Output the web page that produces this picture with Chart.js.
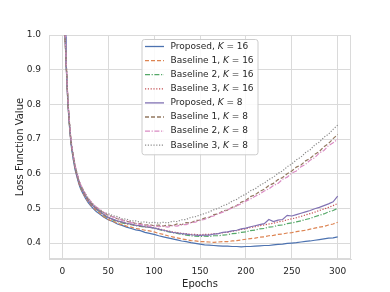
<!DOCTYPE html>
<html>
<head>
<meta charset="utf-8">
<script src="https://cdn.jsdelivr.net/npm/chart.js@4/dist/chart.umd.min.js"></script>
<style>
  html, body { margin: 0; padding: 0; background: #fff; }
</style>
</head>
<body>
<canvas id="lossChart" width="390" height="292"></canvas>
<script>
const epochs = [1, 2, 3, 4, 5, 6, 7, 8, 9, 10, 12, 14, 16, 18, 20, 22, 25, 28, 31, 34, 37, 40, 45,
    50, 55, 60, 65, 70, 75, 80, 85, 90, 95, 100, 105, 110, 115, 120, 125, 130, 135, 140, 145,
    150, 155, 160, 165, 170, 175, 180, 185, 190, 195, 200, 205, 210, 215, 220, 225, 230, 235,
    240, 245, 250, 255, 260, 265, 270, 275, 280, 285, 290, 295, 300];

const proposedK16 = [1.50, 1.12, 0.995, 0.925, 0.865, 0.805, 0.765, 0.730, 0.700, 0.675, 0.640, 0.610,
    0.590, 0.571, 0.556, 0.545, 0.530, 0.517, 0.507, 0.499, 0.491, 0.485, 0.475,
    0.467, 0.462, 0.455, 0.451, 0.446, 0.442, 0.438, 0.436, 0.431, 0.428, 0.425, 0.421, 0.418,
    0.415, 0.412, 0.409, 0.406, 0.404, 0.401, 0.399, 0.397, 0.395, 0.394, 0.393, 0.392, 0.391,
    0.391, 0.390, 0.390, 0.389, 0.390, 0.390, 0.391, 0.392, 0.393, 0.393, 0.395, 0.396, 0.397,
    0.399, 0.400, 0.401, 0.403, 0.405, 0.406, 0.408, 0.410, 0.412, 0.414, 0.415, 0.418];
const baseline1K16 = [1.49, 1.11, 0.990, 0.925, 0.870, 0.810, 0.768, 0.733, 0.703, 0.678, 0.643, 0.613,
    0.593, 0.573, 0.558, 0.548, 0.533, 0.520, 0.510, 0.502, 0.494, 0.488, 0.477,
    0.468, 0.463, 0.457, 0.453, 0.449, 0.446, 0.442, 0.440, 0.437, 0.435, 0.432, 0.428, 0.425,
    0.421, 0.418, 0.415, 0.412, 0.410, 0.407, 0.406, 0.404, 0.404, 0.403, 0.402, 0.403, 0.404,
    0.404, 0.406, 0.407, 0.409, 0.411, 0.413, 0.414, 0.417, 0.418, 0.421, 0.422, 0.425, 0.426,
    0.429, 0.430, 0.433, 0.435, 0.437, 0.440, 0.443, 0.446, 0.448, 0.452, 0.455, 0.460];
const baseline2K16 = [1.51, 1.13, 1.000, 0.930, 0.872, 0.812, 0.770, 0.736, 0.706, 0.680, 0.646, 0.616,
    0.596, 0.577, 0.561, 0.551, 0.537, 0.524, 0.514, 0.506, 0.498, 0.492, 0.481,
    0.472, 0.467, 0.462, 0.458, 0.455, 0.453, 0.450, 0.448, 0.446, 0.445, 0.443, 0.439, 0.436,
    0.433, 0.430, 0.428, 0.425, 0.423, 0.421, 0.420, 0.419, 0.420, 0.419, 0.421, 0.421, 0.423,
    0.424, 0.427, 0.428, 0.431, 0.432, 0.436, 0.437, 0.441, 0.442, 0.446, 0.447, 0.451, 0.452,
    0.456, 0.458, 0.461, 0.464, 0.468, 0.471, 0.476, 0.480, 0.484, 0.490, 0.494, 0.500];
const baseline3K16 = [1.50, 1.12, 1.005, 0.935, 0.870, 0.810, 0.772, 0.737, 0.705, 0.682, 0.647, 0.617,
    0.597, 0.576, 0.562, 0.552, 0.536, 0.525, 0.513, 0.507, 0.499, 0.493, 0.482,
    0.473, 0.468, 0.463, 0.460, 0.456, 0.454, 0.451, 0.449, 0.447, 0.446, 0.444, 0.441, 0.438,
    0.435, 0.432, 0.430, 0.428, 0.427, 0.425, 0.425, 0.424, 0.425, 0.425, 0.427, 0.427, 0.430,
    0.431, 0.434, 0.436, 0.439, 0.441, 0.445, 0.447, 0.450, 0.452, 0.455, 0.457, 0.461, 0.463,
    0.467, 0.470, 0.473, 0.477, 0.481, 0.485, 0.489, 0.494, 0.498, 0.503, 0.508, 0.514];
const proposedK8 = [1.52, 1.13, 1.000, 0.930, 0.870, 0.812, 0.771, 0.736, 0.706, 0.681, 0.646, 0.617,
    0.597, 0.577, 0.562, 0.552, 0.537, 0.524, 0.514, 0.506, 0.499, 0.493, 0.483,
    0.474, 0.469, 0.464, 0.461, 0.457, 0.455, 0.451, 0.450, 0.447, 0.446, 0.443, 0.440, 0.437,
    0.434, 0.431, 0.429, 0.427, 0.426, 0.424, 0.423, 0.422, 0.423, 0.423, 0.426, 0.427, 0.431,
    0.432, 0.435, 0.437, 0.441, 0.443, 0.447, 0.450, 0.453, 0.456, 0.468, 0.462, 0.466, 0.468,
    0.480, 0.478, 0.482, 0.486, 0.490, 0.494, 0.499, 0.503, 0.508, 0.513, 0.519, 0.535];
const baseline1K8 = [1.51, 1.13, 1.005, 0.935, 0.875, 0.815, 0.774, 0.740, 0.709, 0.684, 0.650, 0.621,
    0.600, 0.581, 0.566, 0.556, 0.541, 0.528, 0.517, 0.509, 0.502, 0.496, 0.487,
    0.480, 0.476, 0.470, 0.467, 0.462, 0.461, 0.456, 0.456, 0.452, 0.453, 0.450, 0.452, 0.449,
    0.452, 0.450, 0.455, 0.453, 0.459, 0.458, 0.465, 0.466, 0.472, 0.474, 0.482, 0.484, 0.493,
    0.495, 0.503, 0.508, 0.518, 0.523, 0.534, 0.539, 0.549, 0.555, 0.566, 0.572, 0.583, 0.589,
    0.600, 0.608, 0.619, 0.625, 0.637, 0.644, 0.656, 0.664, 0.678, 0.687, 0.701, 0.713];
const baseline2K8 = [1.52, 1.14, 1.010, 0.940, 0.878, 0.818, 0.778, 0.742, 0.712, 0.688, 0.652, 0.624,
    0.602, 0.584, 0.568, 0.559, 0.543, 0.531, 0.520, 0.512, 0.504, 0.499, 0.489,
    0.482, 0.475, 0.472, 0.466, 0.464, 0.459, 0.457, 0.453, 0.453, 0.449, 0.450, 0.447, 0.449,
    0.446, 0.450, 0.449, 0.453, 0.453, 0.459, 0.460, 0.466, 0.468, 0.475, 0.478, 0.485, 0.489,
    0.496, 0.501, 0.508, 0.513, 0.521, 0.527, 0.535, 0.541, 0.550, 0.556, 0.566, 0.572, 0.584,
    0.590, 0.602, 0.608, 0.620, 0.627, 0.639, 0.646, 0.660, 0.667, 0.681, 0.689, 0.700];
const baseline3K8 = [1.51, 1.13, 1.000, 0.935, 0.874, 0.815, 0.773, 0.739, 0.708, 0.685, 0.651, 0.622,
    0.601, 0.582, 0.567, 0.557, 0.542, 0.529, 0.519, 0.511, 0.503, 0.497, 0.488,
    0.485, 0.479, 0.476, 0.470, 0.469, 0.464, 0.464, 0.460, 0.461, 0.458, 0.460, 0.457, 0.460,
    0.458, 0.463, 0.462, 0.467, 0.468, 0.474, 0.476, 0.481, 0.485, 0.490, 0.496, 0.500, 0.508,
    0.512, 0.521, 0.526, 0.535, 0.541, 0.551, 0.556, 0.566, 0.573, 0.583, 0.590, 0.601, 0.608,
    0.620, 0.628, 0.640, 0.648, 0.661, 0.669, 0.683, 0.691, 0.705, 0.714, 0.728, 0.740];

const seriesNames = ['Proposed', 'Baseline 1', 'Baseline 2', 'Baseline 3',
    'Proposed', 'Baseline 1', 'Baseline 2', 'Baseline 3'];
const seriesK = ['16', '16', '16', '16', '8', '8', '8', '8'];
const xTicks = [0, 50, 100, 150, 200, 250, 300];
const yTicks = [0.4, 0.5, 0.6, 0.7, 0.8, 0.9, 1.0];

const allSeries = [proposedK16, baseline1K16, baseline2K16, baseline3K16,
    proposedK8, baseline1K8, baseline2K8, baseline3K8];
const colors = ['#4c72b0', '#dd8452', '#55a868', '#c44e52', '#8172b3', '#937860', '#da8bc3', '#8c8c8c'];
const dashes = [[], [4, 2], [5, 1.6, 1.2, 1.6], [1.2, 1.6], [], [4, 2], [5, 1.6, 1.2, 1.6], [1.2, 1.6]];

const FONT = '"DejaVu Sans", sans-serif';
const GRID = '#dadada';

const frame = {
    id: 'frame',
    beforeDatasetsDraw(chart) {
        const { ctx, chartArea: a } = chart;
        ctx.save();
        ctx.strokeStyle = GRID;
        ctx.lineWidth = 1;
        ctx.strokeRect(a.left + 0.5, a.top + 0.5, a.right - a.left - 1, a.bottom - a.top - 1);
        ctx.restore();
    }
};

// legend drawn inside the axes, matplotlib style
const legendBox = {
    id: 'legendBox',
    afterDatasetsDraw(chart) {
        const { ctx, chartArea: a } = chart;
        const x0 = a.left + 92.5, y0 = a.top + 4;
        const w = 116, rowH = 14.1, h = 8 * rowH + 2.5;
        ctx.save();
        ctx.beginPath();
        ctx.roundRect(x0 + 0.5, y0 + 0.5, w, h, 2.5);
        ctx.fillStyle = 'rgba(255,255,255,0.85)';
        ctx.fill();
        ctx.strokeStyle = '#cccccc';
        ctx.lineWidth = 1;
        ctx.stroke();
        ctx.textBaseline = 'middle';
        ctx.fillStyle = '#262626';
        chart.data.datasets.forEach((ds, i) => {
            const yy = y0 + 7.5 + i * rowH;
            ctx.beginPath();
            ctx.setLineDash(ds.borderDash);
            ctx.strokeStyle = ds.borderColor;
            ctx.lineWidth = 1.3;
            ctx.moveTo(x0 + 3.5, yy);
            ctx.lineTo(x0 + 22.5, yy);
            ctx.stroke();
            ctx.setLineDash([]);
            let tx = x0 + 29;
            ctx.font = '9px ' + FONT;
            const head = seriesNames[i] + ', ';
            ctx.fillText(head, tx, yy);
            tx += ctx.measureText(head).width;
            ctx.font = 'italic 9px ' + FONT;
            ctx.fillText('K', tx, yy);
            tx += ctx.measureText('K').width;
            ctx.font = '9px ' + FONT;
            ctx.fillText(' = ' + seriesK[i], tx, yy);
        });
        ctx.restore();
    }
};

const datasets = allSeries.map((arr, i) => ({
    label: seriesNames[i] + ', K = ' + seriesK[i],
    data: epochs.map((e, j) => ({ x: e, y: arr[j] })),
    borderColor: colors[i],
    backgroundColor: colors[i],
    borderDash: dashes[i],
    borderWidth: 1.2,
    pointRadius: 0,
    tension: 0,
    order: allSeries.length - i
}));

new Chart(document.getElementById('lossChart'), {
    type: 'line',
    data: { datasets },
    options: {
        responsive: false,
        animation: false,
        devicePixelRatio: 1,
        layout: { padding: { top: 35, right: 39, left: 0, bottom: 0 } },
        plugins: { legend: { display: false }, tooltip: { enabled: false } },
        scales: {
            x: {
                type: 'linear',
                min: -14.5,
                max: 314.5,
                afterBuildTicks: s => { s.ticks = xTicks.map(v => ({ value: v })); },
                afterFit: s => { s.height = 33; },
                grid: { color: GRID, drawTicks: false },
                border: { color: GRID },
                ticks: { padding: 7, color: '#262626', font: { family: FONT, size: 9 }, maxRotation: 0 },
                title: { display: true, text: 'Epochs', color: '#262626', font: { family: FONT, size: 10 }, padding: { top: 0, bottom: 2 } }
            },
            y: {
                min: 0.354,
                max: 1.0,
                afterBuildTicks: s => { s.ticks = yTicks.map(v => ({ value: v })); },
                afterFit: s => { s.width = 49; },
                grid: { color: GRID, drawTicks: false },
                border: { color: GRID },
                ticks: { padding: 8, color: '#262626', font: { family: FONT, size: 9 }, callback: v => v.toFixed(1) },
                title: { display: true, text: 'Loss Function Value', color: '#262626', font: { family: FONT, size: 10 }, padding: { top: 14.5, bottom: 0 } }
            }
        }
    },
    plugins: [frame, legendBox]
});
</script>
</body>
</html>
